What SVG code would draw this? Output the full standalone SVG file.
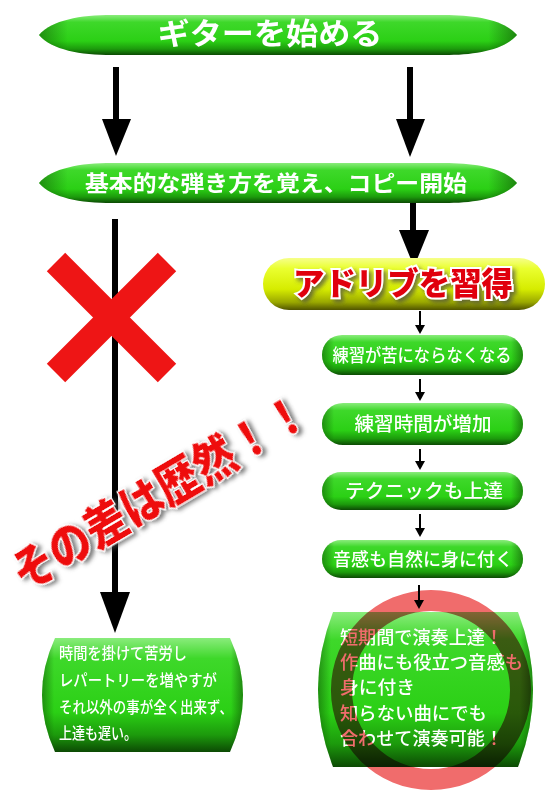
<svg xmlns="http://www.w3.org/2000/svg" width="550" height="800" viewBox="0 0 550 800">
<defs>
<linearGradient id="gGreen" x1="0" y1="0" x2="0" y2="1">
<stop offset="0" stop-color="#8aec7c"/>
<stop offset="0.18" stop-color="#3ed82a"/>
<stop offset="0.65" stop-color="#2bd015"/>
<stop offset="0.85" stop-color="#1c9a0c"/>
<stop offset="1" stop-color="#0c4a04"/>
</linearGradient>
<linearGradient id="gSide" x1="0" y1="0" x2="1" y2="0">
<stop offset="0" stop-color="#0a3a02" stop-opacity="0.45"/>
<stop offset="0.06" stop-color="#0a3a02" stop-opacity="0"/>
<stop offset="0.94" stop-color="#0a3a02" stop-opacity="0"/>
<stop offset="1" stop-color="#0a3a02" stop-opacity="0.5"/>
</linearGradient>
<linearGradient id="gYellow" x1="0" y1="0" x2="0" y2="1">
<stop offset="0" stop-color="#f6ff8a"/>
<stop offset="0.2" stop-color="#eaff30"/>
<stop offset="0.6" stop-color="#d6ec00"/>
<stop offset="0.85" stop-color="#9aa800"/>
<stop offset="1" stop-color="#505400"/>
</linearGradient>
<filter id="shadow" x="-20%" y="-40%" width="140%" height="180%">
<feDropShadow dx="3" dy="3" stdDeviation="2" flood-color="#444" flood-opacity="0.7"/>
</filter>
</defs>
<style>
.pill{fill:url(#gGreen)}
.side{fill:url(#gSide)}
.wt{fill:#ffffff;font-family:"Noto Sans CJK JP","Noto Sans",sans-serif;font-weight:700}
.shaft{stroke:#000;stroke-width:6;fill:none}
.thin{stroke:#000;stroke-width:2;fill:none}
.head{fill:#000}
.red{fill:#ee1111;font-family:"Noto Sans CJK JP",sans-serif;font-weight:900;stroke:#fff;stroke-width:2.5;paint-order:stroke}
</style>
<rect width="550" height="800" fill="#ffffff"/>

<g id="connectors">
<line class="shaft" x1="116" y1="67" x2="116" y2="120"/>
<polygon class="head" points="102,119 131,119 116,156"/>
<line class="shaft" x1="410" y1="67" x2="410" y2="120"/>
<polygon class="head" points="396,119 425,119 410,157"/>
<line class="shaft" x1="413" y1="203" x2="413" y2="232"/>
<polygon class="head" points="399,230 429,230 414,267"/>
<line class="shaft" x1="115" y1="219" x2="115" y2="594"/>
<polygon class="head" points="100,592 130,592 115,633"/>
<line class="thin" x1="420" y1="311" x2="420" y2="326"/>
<polygon class="head" points="415,325 425,325 420,334"/>
<line class="thin" x1="420" y1="379" x2="420" y2="393"/>
<polygon class="head" points="415,392 425,392 420,401"/>
<line class="thin" x1="420" y1="449" x2="420" y2="462"/>
<polygon class="head" points="415,461 425,461 420,470"/>
<line class="thin" x1="420" y1="514" x2="420" y2="529"/>
<polygon class="head" points="415,528 425,528 420,537"/>
<line class="thin" x1="419" y1="585" x2="419" y2="601"/>
<polygon class="head" points="414,600 424,600 419,609"/>
</g>

<g id="start">
<path class="pill" d="M39,35 C52,20 80,15 112,15 L444,15 C476,15 504,20 517,35 C504,50 476,55 444,55 L112,55 C80,55 52,50 39,35 Z"/>
<path class="side" d="M39,35 C52,20 80,15 112,15 L444,15 C476,15 504,20 517,35 C504,50 476,55 444,55 L112,55 C80,55 52,50 39,35 Z"/>
<text class="wt" x="270" y="44" font-size="30" text-anchor="middle" textLength="225" lengthAdjust="spacingAndGlyphs">ギターを始める</text>
</g>

<g id="basics">
<path class="pill" d="M39,183 C52,168 80,163 112,163 L444,163 C476,163 504,168 517,183 C504,198 476,203 444,203 L112,203 C80,203 52,198 39,183 Z"/>
<path class="side" d="M39,183 C52,168 80,163 112,163 L444,163 C476,163 504,168 517,183 C504,198 476,203 444,203 L112,203 C80,203 52,198 39,183 Z"/>
<text class="wt" x="276" y="191" font-size="22" text-anchor="middle" textLength="382" lengthAdjust="spacingAndGlyphs">基本的な弾き方を覚え、コピー開始</text>
</g>

<g id="cross">
<line x1="56" y1="262" x2="167" y2="373" stroke="#ee1515" stroke-width="26"/>
<line x1="167" y1="262" x2="56" y2="373" stroke="#ee1515" stroke-width="26"/>
</g>

<g id="adlib">
<rect x="263" y="258" width="282" height="52" rx="26" fill="url(#gYellow)"/>
<text x="403" y="295" font-size="32" text-anchor="middle" textLength="220" lengthAdjust="spacingAndGlyphs" class="red" filter="url(#shadow)" style="fill:#e00010;stroke-width:4">アドリブを習得</text>
</g>

<g id="step1">
<rect x="322" y="335" width="201" height="40" rx="20" class="pill"/>
<rect x="322" y="335" width="201" height="40" rx="20" class="side"/>
<text class="wt" x="422" y="362" font-size="18" text-anchor="middle" textLength="179" lengthAdjust="spacingAndGlyphs" style="font-weight:500">練習が苦にならなくなる</text>
</g>
<g id="step2">
<rect x="322" y="403" width="201" height="42" rx="21" class="pill"/>
<rect x="322" y="403" width="201" height="42" rx="21" class="side"/>
<text class="wt" x="423" y="431" font-size="19" text-anchor="middle" textLength="137" lengthAdjust="spacingAndGlyphs" style="font-weight:500">練習時間が増加</text>
</g>
<g id="step3">
<rect x="322" y="472" width="201" height="38" rx="19" class="pill"/>
<rect x="322" y="472" width="201" height="38" rx="19" class="side"/>
<text class="wt" x="424" y="498" font-size="19" text-anchor="middle" textLength="158" lengthAdjust="spacingAndGlyphs" style="font-weight:500">テクニックも上達</text>
</g>
<g id="step4">
<rect x="322" y="540" width="201" height="38" rx="19" class="pill"/>
<rect x="322" y="540" width="201" height="38" rx="19" class="side"/>
<text class="wt" x="423" y="566" font-size="18" text-anchor="middle" textLength="180" lengthAdjust="spacingAndGlyphs" style="font-weight:500">音感も自然に身に付く</text>
</g>

<g id="left-result">
<path class="pill" d="M55,638 L230,638 Q256,695 230,752 L55,752 Q29,695 55,638 Z"/>
<path class="side" d="M55,638 L230,638 Q256,695 230,752 L55,752 Q29,695 55,638 Z"/>
<g class="wt" font-size="16" style="font-weight:500">
<text x="59" y="659" textLength="128" lengthAdjust="spacingAndGlyphs">時間を掛けて苦労し</text>
<text x="59" y="686" textLength="158" lengthAdjust="spacingAndGlyphs">レパートリーを増やすが</text>
<text x="59" y="713" textLength="174" lengthAdjust="spacingAndGlyphs">それ以外の事が全く出来ず、</text>
<text x="59" y="739" textLength="78" lengthAdjust="spacingAndGlyphs">上達も遅い。</text>
</g>
</g>

<g id="right-result">
<path class="pill" d="M333,612 L518,612 Q548,690 518,767 L333,767 Q303,690 333,612 Z"/>
<path class="side" d="M333,612 L518,612 Q548,690 518,767 L333,767 Q303,690 333,612 Z"/>
<g class="wt" font-size="18" style="font-weight:500">
<text x="340" y="644" textLength="163" lengthAdjust="spacingAndGlyphs">短期間で演奏上達！</text>
<text x="340" y="669" textLength="183" lengthAdjust="spacingAndGlyphs">作曲にも役立つ音感も</text>
<text x="340" y="694" textLength="75" lengthAdjust="spacingAndGlyphs">身に付き</text>
<text x="340" y="720" textLength="147" lengthAdjust="spacingAndGlyphs">知らない曲にでも</text>
<text x="340" y="745" textLength="163" lengthAdjust="spacingAndGlyphs">合わせて演奏可能！</text>
</g>
</g>

<g id="ring">
<path fill="#f06c6c" fill-rule="evenodd" style="mix-blend-mode:multiply" d="M431,590 A100,100 0 1 1 431,790 A100,100 0 1 1 431,590 Z M431,611 A79,79 0 1 0 431,769 A79,79 0 1 0 431,611 Z"/>
</g>

<g id="difference">
<text class="red" transform="translate(24.3,591.6) rotate(-30.5)" x="0" y="0" font-size="48" textLength="335" lengthAdjust="spacingAndGlyphs" filter="url(#shadow)">その差は歴然！！</text>
</g>
</svg>
